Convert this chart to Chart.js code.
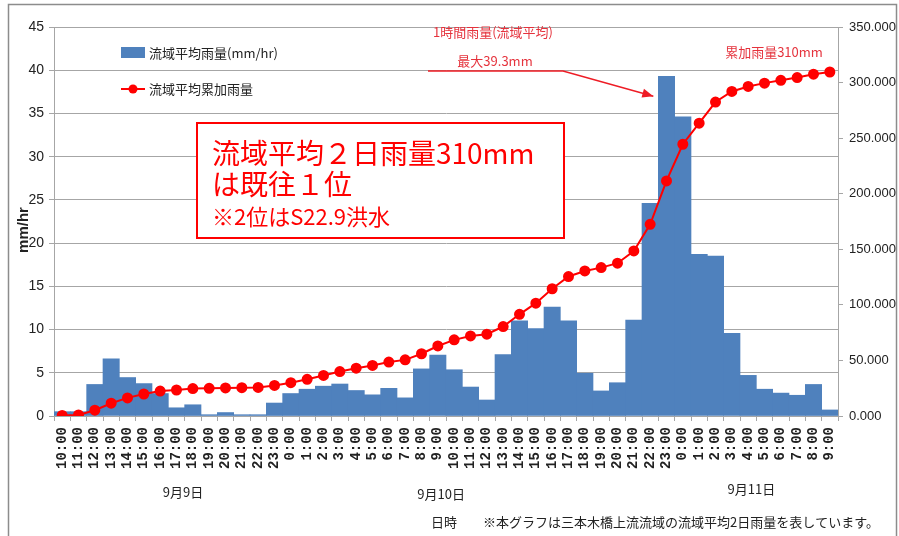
<!DOCTYPE html>
<html>
<head>
<meta charset="utf-8">
<title>流域平均雨量</title>
<script src="https://cdn.jsdelivr.net/npm/chart.js"></script>
<style>
  html, body { margin: 0; padding: 0; background: #fff; }
  #wrap { width: 899px; height: 536px; position: relative; }
</style>
</head>
<body>
<div id="wrap"><canvas id="rainChart" width="899" height="536"></canvas></div>
<script>
// 時刻 (9/9 10:00 〜 9/11 9:00)
var hours = ['10:00','11:00','12:00','13:00','14:00','15:00','16:00','17:00','18:00','19:00','20:00','21:00','22:00','23:00',
             '0:00','1:00','2:00','3:00','4:00','5:00','6:00','7:00','8:00','9:00','10:00','11:00','12:00','13:00',
             '14:00','15:00','16:00','17:00','18:00','19:00','20:00','21:00','22:00','23:00',
             '0:00','1:00','2:00','3:00','4:00','5:00','6:00','7:00','8:00','9:00'];

// 流域平均雨量 (mm/hr)
var hourlyRain = [0.5, 0.5, 3.65, 6.6, 4.45, 3.75, 2.6, 0.95, 1.3, 0.15, 0.4, 0.15, 0.15, 1.5,
                  2.6, 3.1, 3.45, 3.7, 2.95, 2.45, 3.2, 2.1, 5.45, 7.05, 5.35, 3.35, 1.85, 7.1,
                  11.0, 10.1, 12.6, 11.0, 4.95, 2.9, 3.85, 11.1, 24.6, 39.3,
                  34.6, 18.7, 18.5, 9.55, 4.7, 3.1, 2.65, 2.4, 3.65, 0.7];

// 流域平均累加雨量 (mm)
var cumulativeRain = [0.5, 1.0, 5.2, 11.5, 16.3, 19.8, 22.4, 23.4, 24.7, 24.9, 25.3, 25.5, 25.7, 27.5,
                      30.0, 33.0, 36.5, 40.0, 43.0, 45.5, 48.5, 50.5, 56.0, 63.0, 68.5, 72.0, 73.6, 80.5,
                      91.5, 101.5, 114.5, 125.5, 130.5, 133.5, 137.5, 148.5, 172.5, 211.5,
                      244.5, 263.5, 282.5, 292.0, 296.5, 299.5, 302.0, 304.5, 307.5, 309.5];

var leftTicks = [0, 5, 10, 15, 20, 25, 30, 35, 40, 45];
var rightTicks = [0, 50, 100, 150, 200, 250, 300, 350];
var dayLabels = ['9月9日', '9月10日', '9月11日'];
var seriesNames = ['流域平均雨量(mm/hr)', '流域平均累加雨量'];

var jp = "'Noto Sans CJK JP', sans-serif";
var numFont = "'Liberation Sans', sans-serif";

// 文字・凡例・注記を描く
var extras = {
    id: 'extras',
    beforeDraw: function (chart) {
        var ctx = chart.ctx;
        ctx.save();
        ctx.fillStyle = '#fff';
        ctx.fillRect(0, 0, chart.width, chart.height);
        ctx.strokeStyle = '#8c8c8c';
        ctx.lineWidth = 1.5;
        ctx.strokeRect(8.5, 4.5, 888, 540);
        ctx.restore();
    },
    afterDraw: function (chart) {
        var ctx = chart.ctx;
        var xs = chart.scales.x, ys = chart.scales.y;
        ctx.save();

        // 凡例
        ctx.fillStyle = '#4f81bd';
        ctx.fillRect(121, 47, 24, 11);
        ctx.strokeStyle = '#ff0000';
        ctx.lineWidth = 2;
        ctx.beginPath(); ctx.moveTo(121, 89); ctx.lineTo(145, 89); ctx.stroke();
        ctx.fillStyle = '#ff0000';
        ctx.beginPath(); ctx.arc(133, 89, 4.5, 0, Math.PI * 2); ctx.fill();
        ctx.fillStyle = '#222';
        ctx.font = '13px ' + jp;
        ctx.textBaseline = 'middle';
        ctx.fillText(seriesNames[0], 149, 53);
        ctx.fillText(seriesNames[1], 149, 89);

        // 赤枠
        ctx.fillStyle = '#fff';
        ctx.fillRect(197, 123, 367, 115);
        ctx.strokeStyle = '#ff0000';
        ctx.lineWidth = 2;
        ctx.strokeRect(197, 123, 367, 115);
        ctx.fillStyle = '#ff0000';
        ctx.textBaseline = 'alphabetic';
        ctx.font = '28px ' + jp;
        ctx.fillText('流域平均２日雨量310mm', 212, 164);
        ctx.fillText('は既往１位', 212, 195);
        ctx.font = '22px ' + jp;
        ctx.fillText('※2位はS22.9洪水', 212, 225);

        // 最大雨量の注記と矢印
        var peak = hourlyRain.indexOf(Math.max.apply(null, hourlyRain));
        var barW = xs.getPixelForValue(1) - xs.getPixelForValue(0);
        var tipX = xs.getPixelForValue(peak) - barW / 2 - 5;
        var tipY = ys.getPixelForValue(37);
        ctx.fillStyle = '#e5323c';
        ctx.font = '13px ' + jp;
        ctx.textAlign = 'center';
        ctx.textBaseline = 'middle';
        ctx.fillText('1時間雨量(流域平均)', 493, 32);
        ctx.fillText('最大39.3mm', 495, 61);
        ctx.fillText('累加雨量310mm', 774, 52);
        ctx.strokeStyle = '#ee1c25';
        ctx.lineWidth = 1.5;
        ctx.beginPath();
        ctx.moveTo(428, 71); ctx.lineTo(563, 71); ctx.lineTo(tipX, tipY);
        ctx.stroke();
        var ang = Math.atan2(tipY - 71, tipX - 563);
        ctx.fillStyle = '#ee1c25';
        ctx.beginPath();
        ctx.moveTo(tipX, tipY);
        ctx.lineTo(tipX - 11 * Math.cos(ang) + 4.5 * Math.sin(ang), tipY - 11 * Math.sin(ang) - 4.5 * Math.cos(ang));
        ctx.lineTo(tipX - 11 * Math.cos(ang) - 4.5 * Math.sin(ang), tipY - 11 * Math.sin(ang) + 4.5 * Math.cos(ang));
        ctx.closePath();
        ctx.fill();

        // 日付
        ctx.fillStyle = '#222';
        ctx.font = '13px ' + jp;
        ctx.fillText(dayLabels[0], xs.getPixelForValue(7.4), 492);
        ctx.fillText(dayLabels[1], xs.getPixelForValue(23.2), 494);
        ctx.fillText(dayLabels[2], xs.getPixelForValue(42.2), 489);
        ctx.fillText('日時', 444, 522);
        ctx.textAlign = 'left';
        ctx.fillText('※本グラフは三本木橋上流流域の流域平均2日雨量を表しています。', 483, 522);

        // 縦軸タイトル
        ctx.translate(24, 230);
        ctx.rotate(-Math.PI / 2);
        ctx.textAlign = 'center';
        ctx.font = 'bold 15px "Liberation Sans", sans-serif';
        ctx.fillText('mm/hr', 0, 0);
        ctx.restore();
    }
};

var ctx = document.getElementById('rainChart').getContext('2d');
var rainChart = new Chart(ctx, {
    type: 'bar',
    data: {
        labels: hours,
        datasets: [{
            type: 'line',
            label: seriesNames[1],
            data: cumulativeRain,
            yAxisID: 'y1',
            borderColor: '#ff0000',
            backgroundColor: '#ff0000',
            borderWidth: 2,
            pointRadius: 4.5,
            pointBackgroundColor: '#ff0000',
            pointBorderColor: '#ff0000',
            tension: 0,
            order: 0
        }, {
            type: 'bar',
            label: seriesNames[0],
            data: hourlyRain,
            yAxisID: 'y',
            backgroundColor: '#4f81bd',
            borderWidth: 0,
            barPercentage: 1,
            categoryPercentage: 1,
            order: 1
        }]
    },
    options: {
        responsive: false,
        animation: false,
        events: [],
        layout: { padding: { top: 27, left: 0, right: 0, bottom: 0 } },
        plugins: { legend: { display: false }, tooltip: { enabled: false } },
        scales: {
            x: {
                grid: { display: true, drawOnChartArea: false, tickLength: 5, color: '#a6a6a6' },
                border: { color: '#a6a6a6' },
                ticks: {
                    autoSkip: false, minRotation: 90, maxRotation: 90, padding: 6,
                    color: '#222', font: { family: "'Liberation Mono', monospace", size: 14, weight: 'bold' }
                },
                afterFit: function (s) { s.height = 120; }
            },
            y: {
                position: 'left',
                min: 0, max: 45,
                afterBuildTicks: function (s) { s.ticks = leftTicks.map(function (v) { return { value: v }; }); },
                grid: { color: '#a6a6a6', tickLength: 5 },
                border: { color: '#a6a6a6' },
                ticks: { color: '#222', padding: 5, font: { family: numFont, size: 14 } },
                afterFit: function (s) { s.width = 54; }
            },
            y1: {
                position: 'right',
                min: 0, max: 350,
                afterBuildTicks: function (s) { s.ticks = rightTicks.map(function (v) { return { value: v }; }); },
                grid: { drawOnChartArea: false, color: '#a6a6a6', tickLength: 5 },
                border: { color: '#a6a6a6' },
                ticks: {
                    color: '#222', padding: 6, font: { family: numFont, size: 13 },
                    callback: function (v) { return Number(v).toFixed(3); }
                },
                afterFit: function (s) { s.width = 61; }
            }
        }
    },
    plugins: [extras]
});
</script>
</body>
</html>
